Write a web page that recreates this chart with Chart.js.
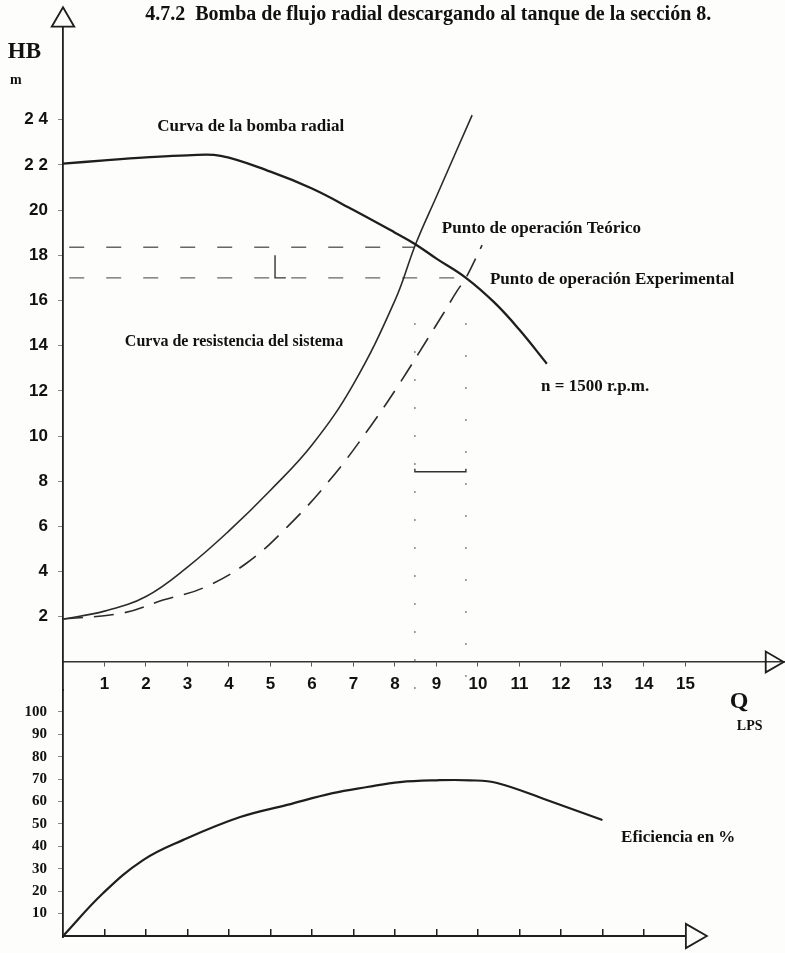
<!DOCTYPE html>
<html>
<head>
<meta charset="utf-8">
<script src="https://cdn.jsdelivr.net/npm/chart.js@4.4.1/dist/chart.umd.min.js"></script>
<style>
  body { margin: 0; background: #fdfdfc; }
  #wrap { width: 785px; height: 953px; }
</style>
</head>
<body>
<div id="wrap"><canvas id="canvas" width="785" height="953"></canvas></div>
<script>
// Q en LPS, HB en m, eficiencia en %
var caudalTicks = [1, 2, 3, 4, 5, 6, 7, 8, 9, 10, 11, 12, 13, 14, 15];
var abajoTicks = [1, 2, 3, 4, 5, 6, 7, 8, 9, 10, 11, 12, 13, 14];
var alturaTicks = [2, 4, 6, 8, 10, 12, 14, 16, 18, 20, 22, 24];
var alturaLabels = ['2', '4', '6', '8', '10', '12', '14', '16', '18', '20', '2 2', '2 4'];
var eficienciaTicks = [10, 20, 30, 40, 50, 60, 70, 80, 90, 100];

var bombaQ = [0, 1, 2, 3, 3.8, 5, 6, 7, 8, 8.48, 9, 9.71, 10.4, 11, 11.66];
var bombaH = [22.05, 22.2, 22.33, 22.42, 22.4, 21.7, 20.95, 20.0, 19.0, 18.5, 17.85, 17.0, 15.9, 14.7, 13.2];

var sistemaQ = [0, 1, 2, 3, 4, 5, 6, 7, 8, 8.5, 9, 9.86];
var sistemaH = [1.9, 2.25, 2.9, 4.2, 5.8, 7.6, 9.6, 12.3, 16.0, 18.5, 20.6, 24.2];

var experimentalQ = [0, 1.45, 2.41, 3.37, 4.43, 5.4, 6.43, 7.4, 8.12, 8.77, 9.16, 9.49, 9.71, 10.1];
var experimentalH = [1.9, 2.17, 2.74, 3.27, 4.38, 5.97, 8.05, 10.4, 12.35, 14.25, 15.4, 16.4, 17.0, 18.45];

var eficienciaQ = [0, 0.97, 1.93, 2.9, 4.27, 5.4, 6.5, 7.33, 8.12, 9.0, 9.8, 10.46, 11.66, 13.0];
var eficienciaE = [0, 19.2, 33.9, 42.9, 53.1, 58.5, 63.8, 66.5, 68.7, 69.5, 69.5, 68.3, 60.7, 51.8];

// puntos de operacion
var teoricoQ = 8.48, teoricoH = 18.35;
var experimQ = 9.71, experimH = 17.0;

var qMin = 0, qMax = 17.4;

function puntos(qs, vs) {
  return qs.map(function(q, i) { return {x: q, y: vs[i]}; });
}

var negro = '#1e1e1e';

var notas = [
  {texto: '4.7.2  Bomba de flujo radial descargando al tanque de la sección 8.', q: 1.98, v: 28.63, eje: 'yH', fuente: 'bold 20px "Liberation Serif"'},
  {texto: 'HB', q: -1.33, v: 27.0, eje: 'yH', fuente: 'bold 23px "Liberation Serif"'},
  {texto: 'm', q: -1.28, v: 25.75, eje: 'yH', fuente: 'bold 14px "Liberation Serif"'},
  {texto: 'Curva de la bomba radial', q: 2.27, v: 23.67, eje: 'yH', fuente: 'bold 17px "Liberation Serif"'},
  {texto: 'Punto de operación Teórico', q: 9.13, v: 19.2, eje: 'yH', fuente: 'bold 17px "Liberation Serif"'},
  {texto: 'Punto de operación Experimental', q: 10.29, v: 16.9, eje: 'yH', fuente: 'bold 17px "Liberation Serif"'},
  {texto: 'Curva de resistencia del sistema', q: 1.49, v: 14.16, eje: 'yH', fuente: 'bold 16px "Liberation Serif"'},
  {texto: 'n = 1500 r.p.m.', q: 11.52, v: 12.17, eje: 'yH', fuente: 'bold 17px "Liberation Serif"'},
  {texto: 'Q', q: 16.07, v: -1.77, eje: 'yH', fuente: 'bold 24px "Liberation Serif"'},
  {texto: 'LPS', q: 16.24, v: -2.83, eje: 'yH', fuente: 'bold 14px "Liberation Serif"'},
  {texto: 'Eficiencia en %', q: 13.45, v: 43.75, eje: 'yE', fuente: 'bold 17px "Liberation Serif"'}
];

var pluginNotas = {
  id: 'notas',
  afterDatasetsDraw: function(chart) {
    var ctx = chart.ctx;
    ctx.save();
    ctx.fillStyle = '#111';
    ctx.textAlign = 'left';
    ctx.textBaseline = 'middle';
    notas.forEach(function(n) {
      ctx.font = n.fuente;
      ctx.fillText(n.texto, chart.scales.x.getPixelForValue(n.q), chart.scales[n.eje].getPixelForValue(n.v));
    });
    ctx.restore();
  }
};

function linea(data, eje, color, ancho, dash) {
  return {
    data: data,
    yAxisID: eje,
    borderColor: color,
    borderWidth: ancho,
    borderDash: dash || [],
    pointRadius: 0,
    fill: false,
    tension: 0.4
  };
}

function recta(data, eje, color, ancho, dash) {
  var d = linea(data, eje, color, ancho, dash);
  d.tension = 0;
  return d;
}

function flecha(q, v, eje, rot, radio) {
  return {
    data: [{x: q, y: v}],
    yAxisID: eje,
    showLine: false,
    pointStyle: 'triangle',
    pointRadius: radio,
    pointRotation: rot,
    pointBackgroundColor: 'rgba(0,0,0,0)',
    pointBorderColor: negro,
    pointBorderWidth: 1.8,
    clip: false
  };
}

// ancho fijo del eje y sin relleno extra arriba/abajo
function ajustarEje(s) {
  s.width = 59;
  s.paddingTop = 0;
  s.paddingBottom = 0;
}

var config = {
  type: 'line',
  data: {
    datasets: [
      linea(puntos(bombaQ, bombaH), 'yH', negro, 2.3),
      linea(puntos(sistemaQ, sistemaH), 'yH', '#2b2b2b', 1.6),
      linea(puntos(experimentalQ, experimentalH), 'yH', '#2b2b2b', 1.6, [20, 11]),
      linea(puntos(eficienciaQ, eficienciaE), 'yE', negro, 2.2),
      // lineas de referencia de los puntos de operacion
      recta([{x: 0.15, y: teoricoH}, {x: teoricoQ, y: teoricoH}], 'yH', '#666', 1.4, [15, 22]),
      recta([{x: 0.15, y: experimH}, {x: experimQ, y: experimH}], 'yH', '#666', 1.4, [15, 22]),
      recta([{x: teoricoQ, y: 15}, {x: teoricoQ, y: -4.3}], 'yH', '#8a8a8a', 1.5, [2, 26]),
      recta([{x: experimQ, y: 15}, {x: experimQ, y: -4.3}], 'yH', '#8a8a8a', 1.5, [2, 30]),
      recta([{x: 5.11, y: 18.0}, {x: 5.11, y: 17.0}, {x: 5.37, y: 17.0}], 'yH', '#333', 1.4),
      recta([{x: teoricoQ, y: 8.55}, {x: teoricoQ, y: 8.42}, {x: experimQ, y: 8.42}, {x: experimQ, y: 8.55}], 'yH', '#333', 1.4),
      // eje inferior
      recta([{x: 0, y: 0}, {x: 14.99, y: 0}], 'yE', negro, 1.8),
      flecha(0, 28.4, 'yH', 0, 13),
      flecha(17.08, 0, 'yH', 90, 12),
      flecha(15.18, 0, 'yE', 90, 14)
    ]
  },
  options: {
    responsive: false,
    animation: false,
    layout: { autoPadding: false, padding: { left: 4, right: 0, top: 27, bottom: 16 } },
    plugins: {
      legend: { display: false },
      tooltip: { enabled: false },
      title: { display: false }
    },
    scales: {
      x: {
        type: 'linear',
        min: qMin,
        max: qMax,
        position: { yH: 0 },
        afterBuildTicks: function(s) { s.ticks = caudalTicks.map(function(v) { return {value: v}; }); },
        ticks: { font: { family: 'Liberation Sans', size: 17, weight: 'bold' }, color: '#111', padding: 8, maxRotation: 0, autoSkip: false },
        grid: { drawOnChartArea: false, drawTicks: true, tickLength: 4, color: '#555' },
        border: { display: true, color: '#333', width: 1.5 }
      },
      x2: {
        type: 'linear',
        min: qMin,
        max: qMax,
        position: { yE: 0 },
        afterBuildTicks: function(s) { s.ticks = abajoTicks.map(function(v) { return {value: v}; }); },
        ticks: { callback: function() { return ''; }, autoSkip: false },
        grid: { drawOnChartArea: false, drawTicks: true, tickLength: -7, color: negro, lineWidth: 1.5 },
        border: { display: false }
      },
      yH: {
        type: 'linear',
        position: 'left',
        stack: 'izq',
        stackWeight: 663,
        weight: 1,
        min: -1.24,
        max: 28.1,
        afterFit: ajustarEje,
        afterBuildTicks: function(s) { s.ticks = alturaTicks.map(function(v) { return {value: v}; }); },
        ticks: {
          callback: function(v, i) { return alturaLabels[i]; },
          font: { family: 'Liberation Sans', size: 17, weight: 'bold' },
          color: '#111',
          padding: 10,
          autoSkip: false
        },
        grid: { drawOnChartArea: false, drawTicks: true, tickLength: 5, color: '#888' },
        border: { display: true, color: negro, width: 1.8 }
      },
      yE: {
        type: 'linear',
        position: 'left',
        stack: 'izq',
        stackWeight: 247,
        weight: 0,
        min: -0.45,
        max: 109.8,
        afterFit: ajustarEje,
        afterBuildTicks: function(s) { s.ticks = eficienciaTicks.map(function(v) { return {value: v}; }); },
        ticks: {
          font: { family: 'Liberation Serif', size: 15, weight: 'bold' },
          color: '#111',
          padding: 11,
          autoSkip: false
        },
        grid: { drawOnChartArea: false, drawTicks: true, tickLength: 5, color: '#888' },
        border: { display: true, color: negro, width: 1.8 }
      }
    }
  },
  plugins: [pluginNotas]
};

var chart = new Chart(document.getElementById('canvas'), config);
</script>
</body>
</html>
